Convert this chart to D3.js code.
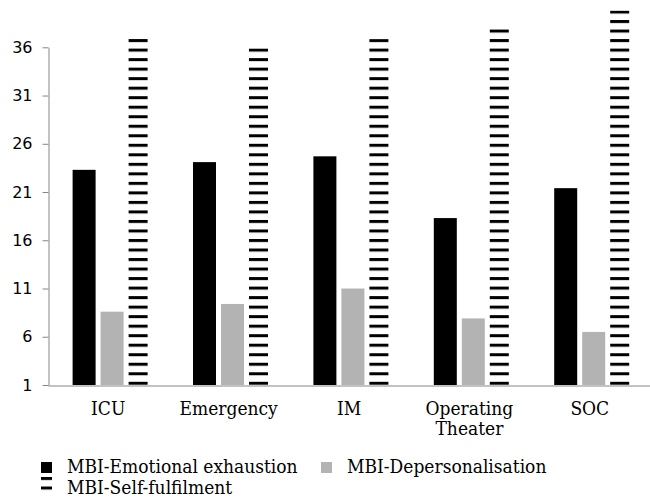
<!DOCTYPE html>
<html>
<head>
<meta charset="utf-8">
<script src="https://cdn.jsdelivr.net/npm/d3@7/dist/d3.min.js"></script>
<style>
  body { margin: 0; background: #fff; }
  svg { display: block; }
  .serif { font-family: "DejaVu Serif Condensed", "DejaVu Serif", serif; font-stretch: condensed; }
</style>
</head>
<body>
<svg id="chart" width="650" height="499"></svg>
<script>
// values
var categories = ["ICU", "Emergency", "IM", "Operating Theater", "SOC"];
var seriesNames = ["MBI-Emotional exhaustion", "MBI-Depersonalisation", "MBI-Self-fulfilment"];
var exhaustion = [23.3, 24.1, 24.7, 18.3, 21.4];
var depersonalisation = [8.6, 9.4, 11.0, 7.9, 6.5];
var selfFulfilment = [36.9, 35.9, 36.85, 37.9, 39.8];
var yTicks = [1, 6, 11, 16, 21, 26, 31, 36];

var svg = d3.select("#chart");
var axisColor = "#868686";

var rows = categories.map(function (c, i) {
    return { cat: c, values: [exhaustion[i], depersonalisation[i], selfFulfilment[i]] };
});

// striped fill, anchored in page space so every bar lines up
var defs = svg.append("defs");
defs.append("pattern")
    .attr("id", "stripes")
    .attr("patternUnits", "userSpaceOnUse")
    .attr("width", 10)
    .attr("height", 9.52)
    .attr("y", 381.8)
    .append("rect")
    .attr("width", 10)
    .attr("height", 3)
    .attr("fill", "#000");

var fills = ["#000", "#b3b3b3", "url(#stripes)"];

var x0 = d3.scaleBand().domain(categories).range([48, 650]).padding(0);
var x1 = d3.scaleBand().domain(d3.range(3)).range([24.6, 103.6]).paddingInner(5 / 28);
var y = d3.scaleLinear().domain([1, 36]).range([385, 47.3]);

// bars
var groups = svg.append("g").selectAll("g")
    .data(rows)
    .enter().append("g");

groups.selectAll("rect")
    .data(function (d) {
        return d.values.map(function (v, k) { return { cat: d.cat, k: k, v: v }; });
    })
    .enter().append("rect")
    .attr("x", function (d) { return x0(d.cat) + x1(d.k); })
    .attr("y", function (d) { return y(d.v); })
    .attr("width", function (d) { return d.k == 2 ? x1.bandwidth() - 4 : x1.bandwidth(); })
    .attr("height", function (d) { return y(1) - y(d.v); })
    .attr("fill", function (d) { return fills[d.k]; });

// y axis
var yAxis = svg.append("g")
    .attr("transform", "translate(48.5,0)")
    .call(d3.axisLeft(y).tickValues(yTicks).tickSize(6).tickSizeOuter(0).tickPadding(10));
yAxis.selectAll("path, line").attr("stroke", axisColor);
yAxis.selectAll("text")
    .attr("fill", "#000")
    .style("font-family", "'DejaVu Sans', sans-serif")
    .style("font-size", "16px");

// x axis
var xAxis = svg.append("g")
    .attr("transform", "translate(0,385.5)")
    .call(d3.axisBottom(x0).tickSize(0).tickSizeOuter(0).tickPadding(0));
xAxis.select(".domain").attr("stroke", axisColor);
xAxis.selectAll("text")
    .attr("class", "serif")
    .attr("fill", "#000")
    .style("font-size", "19px")
    .attr("dy", null)
    .attr("y", 29.5)
    .each(function (d) {
        var t = d3.select(this), words = d.split(" ");
        t.text(null);
        words.forEach(function (w, i) {
            t.append("tspan").attr("x", 0).attr("dy", i ? 20 : 0).text(w);
        });
    });

// legend
var legendItems = [
    { name: seriesNames[0], k: 0, x: 41, y: 462 },
    { name: seriesNames[1], k: 1, x: 321, y: 462 },
    { name: seriesNames[2], k: 2, x: 41, y: 483 }
];
var legend = svg.append("g").selectAll("g")
    .data(legendItems)
    .enter().append("g");

legend.append("rect")
    .attr("x", function (d) { return d.x; })
    .attr("y", function (d) { return d.k == 2 ? 476 : d.y; })
    .attr("width", 11)
    .attr("height", function (d) { return d.k == 2 ? 15 : 11; })
    .attr("fill", function (d) { return fills[d.k]; });

legend.append("text")
    .attr("class", "serif")
    .attr("x", function (d) { return d.x + 26; })
    .attr("y", function (d) { return d.y + 11; })
    .style("font-size", "19px")
    .text(function (d) { return d.name; });
</script>
</body>
</html>
